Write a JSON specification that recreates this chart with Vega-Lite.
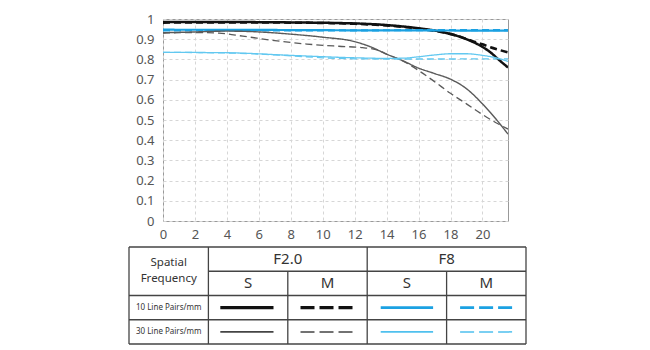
{
  "$schema": "https://vega.github.io/schema/vega-lite/v6.json",
  "padding": {"left": 128, "top": 12, "right": 5, "bottom": 2},
  "background": "white",
  "config": {
    "font": "Noto Sans",
    "view": {"stroke": "#999999", "strokeWidth": 1},
    "axis": {"labelFont": "Noto Sans", "labelColor": "#555555", "labelFontSize": 13}
  },
  "spacing": 4,
  "resolve": {"scale": {"strokeDash": "independent", "strokeWidth": "independent", "color": "independent", "x": "independent", "y": "independent"}},
  "vconcat": [
    {
      "spacing": 0,
      "hconcat": [
        {
          "width": 1,
          "height": 202,
          "view": {"stroke": null},
          "data": {"values": []},
          "mark": "point",
          "encoding": {}
        },
        {
          "width": 345,
          "height": 202,
          "data": {"values": [
            {"series": "F2.0 S 10", "dash": "solid", "x": 0, "v": 0.985},
            {"series": "F2.0 S 10", "dash": "solid", "x": 4, "v": 0.985},
            {"series": "F2.0 S 10", "dash": "solid", "x": 8, "v": 0.983},
            {"series": "F2.0 S 10", "dash": "solid", "x": 12, "v": 0.978},
            {"series": "F2.0 S 10", "dash": "solid", "x": 14, "v": 0.97},
            {"series": "F2.0 S 10", "dash": "solid", "x": 16, "v": 0.954},
            {"series": "F2.0 S 10", "dash": "solid", "x": 17.4, "v": 0.937},
            {"series": "F2.0 S 10", "dash": "solid", "x": 19, "v": 0.9},
            {"series": "F2.0 S 10", "dash": "solid", "x": 20, "v": 0.862},
            {"series": "F2.0 S 10", "dash": "solid", "x": 20.5, "v": 0.835},
            {"series": "F2.0 S 10", "dash": "solid", "x": 21, "v": 0.8},
            {"series": "F2.0 S 10", "dash": "solid", "x": 21.6, "v": 0.76},

            {"series": "F2.0 M 10", "dash": "dashed", "x": 0, "v": 0.982},
            {"series": "F2.0 M 10", "dash": "dashed", "x": 4, "v": 0.983},
            {"series": "F2.0 M 10", "dash": "dashed", "x": 8, "v": 0.982},
            {"series": "F2.0 M 10", "dash": "dashed", "x": 12, "v": 0.976},
            {"series": "F2.0 M 10", "dash": "dashed", "x": 14, "v": 0.968},
            {"series": "F2.0 M 10", "dash": "dashed", "x": 16, "v": 0.952},
            {"series": "F2.0 M 10", "dash": "dashed", "x": 17.4, "v": 0.936},
            {"series": "F2.0 M 10", "dash": "dashed", "x": 18.5, "v": 0.915},
            {"series": "F2.0 M 10", "dash": "dashed", "x": 19.3, "v": 0.893},
            {"series": "F2.0 M 10", "dash": "dashed", "x": 20, "v": 0.875},
            {"series": "F2.0 M 10", "dash": "dashed", "x": 20.5, "v": 0.86},
            {"series": "F2.0 M 10", "dash": "dashed", "x": 21, "v": 0.848},
            {"series": "F2.0 M 10", "dash": "dashed", "x": 21.6, "v": 0.835},

            {"series": "F8 S 10", "dash": "solid", "x": 0, "v": 0.947},
            {"series": "F8 S 10", "dash": "solid", "x": 6, "v": 0.946},
            {"series": "F8 S 10", "dash": "solid", "x": 12, "v": 0.944},
            {"series": "F8 S 10", "dash": "solid", "x": 18, "v": 0.943},
            {"series": "F8 S 10", "dash": "solid", "x": 21.6, "v": 0.942},

            {"series": "F8 M 10", "dash": "dashed", "x": 0, "v": 0.943},
            {"series": "F8 M 10", "dash": "dashed", "x": 6, "v": 0.944},
            {"series": "F8 M 10", "dash": "dashed", "x": 12, "v": 0.944},
            {"series": "F8 M 10", "dash": "dashed", "x": 18, "v": 0.945},
            {"series": "F8 M 10", "dash": "dashed", "x": 21.6, "v": 0.945},

            {"series": "F2.0 S 30", "dash": "solid", "x": 0, "v": 0.932},
            {"series": "F2.0 S 30", "dash": "solid", "x": 2, "v": 0.936},
            {"series": "F2.0 S 30", "dash": "solid", "x": 4, "v": 0.94},
            {"series": "F2.0 S 30", "dash": "solid", "x": 6, "v": 0.936},
            {"series": "F2.0 S 30", "dash": "solid", "x": 8, "v": 0.925},
            {"series": "F2.0 S 30", "dash": "solid", "x": 10, "v": 0.91},
            {"series": "F2.0 S 30", "dash": "solid", "x": 12, "v": 0.888},
            {"series": "F2.0 S 30", "dash": "solid", "x": 13, "v": 0.862},
            {"series": "F2.0 S 30", "dash": "solid", "x": 14, "v": 0.826},
            {"series": "F2.0 S 30", "dash": "solid", "x": 15, "v": 0.794},
            {"series": "F2.0 S 30", "dash": "solid", "x": 16, "v": 0.757},
            {"series": "F2.0 S 30", "dash": "solid", "x": 17, "v": 0.73},
            {"series": "F2.0 S 30", "dash": "solid", "x": 18, "v": 0.702},
            {"series": "F2.0 S 30", "dash": "solid", "x": 19, "v": 0.655},
            {"series": "F2.0 S 30", "dash": "solid", "x": 20, "v": 0.58},
            {"series": "F2.0 S 30", "dash": "solid", "x": 21, "v": 0.49},
            {"series": "F2.0 S 30", "dash": "solid", "x": 21.6, "v": 0.43},

            {"series": "F2.0 M 30", "dash": "dashed", "x": 0, "v": 0.93},
            {"series": "F2.0 M 30", "dash": "dashed", "x": 2, "v": 0.933},
            {"series": "F2.0 M 30", "dash": "dashed", "x": 3.5, "v": 0.93},
            {"series": "F2.0 M 30", "dash": "dashed", "x": 5, "v": 0.915},
            {"series": "F2.0 M 30", "dash": "dashed", "x": 7, "v": 0.893},
            {"series": "F2.0 M 30", "dash": "dashed", "x": 9, "v": 0.876},
            {"series": "F2.0 M 30", "dash": "dashed", "x": 11, "v": 0.865},
            {"series": "F2.0 M 30", "dash": "dashed", "x": 12.5, "v": 0.858},
            {"series": "F2.0 M 30", "dash": "dashed", "x": 13.5, "v": 0.845},
            {"series": "F2.0 M 30", "dash": "dashed", "x": 14, "v": 0.826},
            {"series": "F2.0 M 30", "dash": "dashed", "x": 15, "v": 0.793},
            {"series": "F2.0 M 30", "dash": "dashed", "x": 16, "v": 0.745},
            {"series": "F2.0 M 30", "dash": "dashed", "x": 17, "v": 0.69},
            {"series": "F2.0 M 30", "dash": "dashed", "x": 18, "v": 0.632},
            {"series": "F2.0 M 30", "dash": "dashed", "x": 19, "v": 0.58},
            {"series": "F2.0 M 30", "dash": "dashed", "x": 20, "v": 0.527},
            {"series": "F2.0 M 30", "dash": "dashed", "x": 21, "v": 0.48},
            {"series": "F2.0 M 30", "dash": "dashed", "x": 21.6, "v": 0.455},

            {"series": "F8 S 30", "dash": "solid", "x": 0, "v": 0.835},
            {"series": "F8 S 30", "dash": "solid", "x": 4, "v": 0.833},
            {"series": "F8 S 30", "dash": "solid", "x": 8, "v": 0.82},
            {"series": "F8 S 30", "dash": "solid", "x": 12, "v": 0.808},
            {"series": "F8 S 30", "dash": "solid", "x": 14, "v": 0.805},
            {"series": "F8 S 30", "dash": "solid", "x": 15, "v": 0.806},
            {"series": "F8 S 30", "dash": "solid", "x": 16, "v": 0.813},
            {"series": "F8 S 30", "dash": "solid", "x": 17, "v": 0.822},
            {"series": "F8 S 30", "dash": "solid", "x": 18, "v": 0.828},
            {"series": "F8 S 30", "dash": "solid", "x": 19, "v": 0.828},
            {"series": "F8 S 30", "dash": "solid", "x": 20, "v": 0.82},
            {"series": "F8 S 30", "dash": "solid", "x": 21, "v": 0.805},
            {"series": "F8 S 30", "dash": "solid", "x": 21.6, "v": 0.79},

            {"series": "F8 M 30", "dash": "dashed", "x": 0, "v": 0.835},
            {"series": "F8 M 30", "dash": "dashed", "x": 4, "v": 0.832},
            {"series": "F8 M 30", "dash": "dashed", "x": 8, "v": 0.818},
            {"series": "F8 M 30", "dash": "dashed", "x": 10, "v": 0.808},
            {"series": "F8 M 30", "dash": "dashed", "x": 12, "v": 0.803},
            {"series": "F8 M 30", "dash": "dashed", "x": 14, "v": 0.802},
            {"series": "F8 M 30", "dash": "dashed", "x": 16, "v": 0.802},
            {"series": "F8 M 30", "dash": "dashed", "x": 18, "v": 0.802},
            {"series": "F8 M 30", "dash": "dashed", "x": 20, "v": 0.803},
            {"series": "F8 M 30", "dash": "dashed", "x": 21.6, "v": 0.803}
          ]},
          "mark": {"type": "line", "interpolate": "monotone", "clip": true},
          "encoding": {
            "x": {"field": "x", "type": "quantitative",
              "scale": {"domain": [0, 21.6], "nice": false, "zero": false},
              "axis": {"title": null, "values": [0, 2, 4, 6, 8, 10, 12, 14, 16, 18, 20], "grid": true, "gridColor": "#d6d6d6", "gridDash": [3, 3], "ticks": false, "domain": false, "labelPadding": 7, "labelFlush": false}},
            "y": {"field": "v", "type": "quantitative",
              "scale": {"domain": [0, 1], "nice": false},
              "axis": {"title": null, "values": [0, 0.1, 0.2, 0.3, 0.4, 0.5, 0.6, 0.7, 0.8, 0.9, 1], "format": ".1~f", "grid": true, "gridColor": "#d6d6d6", "gridDash": [3, 3], "ticks": false, "domain": false, "labelPadding": 9, "minExtent": 32, "maxExtent": 32}},
            "detail": {"field": "series"},
            "color": {"field": "series", "type": "nominal", "legend": null,
              "scale": {"domain": ["F2.0 S 10", "F2.0 M 10", "F8 S 10", "F8 M 10", "F2.0 S 30", "F2.0 M 30", "F8 S 30", "F8 M 30"],
                        "range": ["#111111", "#111111", "#1ba1e2", "#1ba1e2", "#5a5a5a", "#5a5a5a", "#62c8f0", "#62c8f0"]}},
            "strokeWidth": {"field": "series", "type": "nominal", "legend": null,
              "scale": {"type": "ordinal", "domain": ["F2.0 S 10", "F2.0 M 10", "F8 S 10", "F8 M 10", "F2.0 S 30", "F2.0 M 30", "F8 S 30", "F8 M 30"],
                        "range": [2.5, 2.5, 2.2, 2.2, 1.4, 1.3, 1.3, 1.3]}},
            "strokeDash": {"field": "dash", "type": "nominal", "legend": null,
              "scale": {"domain": ["solid", "dashed"], "range": [[1, 0], [7, 4]]}}
          }
        }
      ]
    },
    {
      "width": 397,
      "height": 97,
      "view": {"stroke": null},
      "resolve": {"scale": {"strokeDash": "independent"}},
      "layer": [
        {
          "data": {"values": [
            {"x": 0, "x2": 5, "y": 0, "y2": 0},
            {"x": 1, "x2": 5, "y": 1, "y2": 1},
            {"x": 0, "x2": 5, "y": 2, "y2": 2},
            {"x": 0, "x2": 5, "y": 3, "y2": 3},
            {"x": 0, "x2": 5, "y": 4, "y2": 4},
            {"x": 0, "x2": 0, "y": 0, "y2": 4},
            {"x": 1, "x2": 1, "y": 0, "y2": 4},
            {"x": 2, "x2": 2, "y": 1, "y2": 4},
            {"x": 3, "x2": 3, "y": 0, "y2": 4},
            {"x": 4, "x2": 4, "y": 1, "y2": 4},
            {"x": 5, "x2": 5, "y": 0, "y2": 4}
          ]},
          "mark": {"type": "rule", "color": "#444444", "strokeWidth": 1.3},
          "encoding": {
            "x": {"field": "x", "type": "quantitative", "scale": {"domain": [0, 5], "nice": false}, "axis": null},
            "x2": {"field": "x2"},
            "y": {"field": "y", "type": "quantitative", "scale": {"domain": [0, 4], "nice": false, "reverse": true}, "axis": null},
            "y2": {"field": "y2"}
          }
        },
        {
          "data": {"values": [
            {"label": "Spatial", "col": 0.5, "row": 0.64},
            {"label": "Frequency", "col": 0.5, "row": 1.3}
          ]},
          "mark": {"type": "text", "fontSize": 11.5, "color": "#333333", "baseline": "middle", "align": "center", "font": "Noto Sans"},
          "encoding": {
            "x": {"field": "col", "type": "quantitative"},
            "y": {"field": "row", "type": "quantitative"},
            "text": {"field": "label"}
          }
        },
        {
          "data": {"values": [
            {"label": "F2.0", "col": 2, "row": 0.5},
            {"label": "F8", "col": 4, "row": 0.5},
            {"label": "S", "col": 1.5, "row": 1.5},
            {"label": "M", "col": 2.5, "row": 1.5},
            {"label": "S", "col": 3.5, "row": 1.5},
            {"label": "M", "col": 4.5, "row": 1.5}
          ]},
          "mark": {"type": "text", "fontSize": 15, "color": "#333333", "baseline": "middle", "align": "center", "font": "Noto Sans"},
          "encoding": {
            "x": {"field": "col", "type": "quantitative"},
            "y": {"field": "row", "type": "quantitative"},
            "text": {"field": "label"}
          }
        },
        {
          "data": {"values": [
            {"label": "10 Line Pairs/mm", "col": 0.5, "row": 2.5},
            {"label": "30 Line Pairs/mm", "col": 0.5, "row": 3.5}
          ]},
          "mark": {"type": "text", "fontSize": 8, "color": "#333333", "baseline": "middle", "align": "center", "font": "Noto Sans", "letterSpacing": -0.3},
          "encoding": {
            "x": {"field": "col", "type": "quantitative"},
            "y": {"field": "row", "type": "quantitative"},
            "text": {"field": "label"}
          }
        },
        {
          "data": {"values": [
            {"series": "F2.0 S 10", "dash": "solid", "x": 1.15, "x2": 1.82, "y": 2.5},
            {"series": "F2.0 M 10", "dash": "dashed", "x": 2.16, "x2": 2.82, "y": 2.5},
            {"series": "F8 S 10", "dash": "solid", "x": 3.17, "x2": 3.83, "y": 2.5},
            {"series": "F8 M 10", "dash": "dashed", "x": 4.17, "x2": 4.83, "y": 2.5},
            {"series": "F2.0 S 30", "dash": "solid", "x": 1.15, "x2": 1.82, "y": 3.5},
            {"series": "F2.0 M 30", "dash": "dashed", "x": 2.16, "x2": 2.82, "y": 3.5},
            {"series": "F8 S 30", "dash": "solid", "x": 3.17, "x2": 3.83, "y": 3.5},
            {"series": "F8 M 30", "dash": "dashed", "x": 4.17, "x2": 4.83, "y": 3.5}
          ]},
          "mark": {"type": "rule"},
          "encoding": {
            "x": {"field": "x", "type": "quantitative"},
            "x2": {"field": "x2"},
            "y": {"field": "y", "type": "quantitative"},
            "color": {"field": "series", "type": "nominal", "legend": null,
              "scale": {"domain": ["F2.0 S 10", "F2.0 M 10", "F8 S 10", "F8 M 10", "F2.0 S 30", "F2.0 M 30", "F8 S 30", "F8 M 30"],
                        "range": ["#111111", "#111111", "#1ba1e2", "#1ba1e2", "#444444", "#444444", "#4fc0ee", "#4fc0ee"]}},
            "strokeWidth": {"field": "series", "type": "nominal", "legend": null,
              "scale": {"type": "ordinal", "domain": ["F2.0 S 10", "F2.0 M 10", "F8 S 10", "F8 M 10", "F2.0 S 30", "F2.0 M 30", "F8 S 30", "F8 M 30"],
                        "range": [3.2, 3.2, 2.8, 2.8, 1.6, 1.5, 1.6, 1.5]}},
            "strokeDash": {"field": "dash", "type": "nominal", "legend": null,
              "scale": {"domain": ["solid", "dashed"], "range": [[1, 0], [14, 5]]}}
          }
        }
      ]
    }
  ]
}
